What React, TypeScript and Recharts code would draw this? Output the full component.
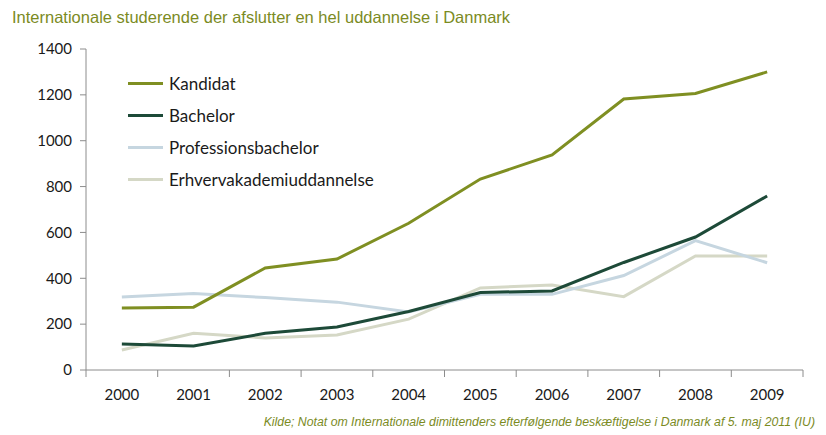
import React from "react";
import { LineChart, Line, XAxis, YAxis } from "recharts";

const years = ["2000", "2001", "2002", "2003", "2004", "2005", "2006", "2007", "2008", "2009"];
const kandidat = [270, 274, 445, 484, 640, 833, 938, 1182, 1206, 1300];
const bachelor = [113, 105, 160, 188, 255, 338, 345, 469, 580, 759];
const professionsbachelor = [318, 334, 316, 296, 253, 330, 330, 412, 564, 468];
const erhvervsakademi = [87, 160, 140, 153, 222, 358, 371, 320, 497, 497];
const yTicks = [0, 200, 400, 600, 800, 1000, 1200, 1400];
const boundaryTicks = [-0.5, 0.5, 1.5, 2.5, 3.5, 4.5, 5.5, 6.5, 7.5, 8.5, 9.5];
const labelTicks = [0, 1, 2, 3, 4, 5, 6, 7, 8, 9];

const seriesNames = ["Kandidat", "Bachelor", "Professionsbachelor", "Erhvervakademiuddannelse"];
const seriesColors = ["#7f8f22", "#1d4a38", "#c6d6e0", "#d5d8c6"];

const data = years.map((y, i) => ({
  x: i,
  year: y,
  k: kandidat[i],
  b: bachelor[i],
  p: professionsbachelor[i],
  e: erhvervsakademi[i],
}));

const FONT = "Lato, 'Open Sans', sans-serif";

export default function App() {
  return (
    <div style={{ position: "absolute", left: 0, top: 0, width: 826, height: 435, background: "#fff" }}>
      <div
        style={{
          position: "absolute",
          left: 12,
          top: 8,
          fontFamily: "'Liberation Sans', Arial, sans-serif",
          fontSize: 16.5,
          color: "#7b8b1f",
          whiteSpace: "nowrap",
        }}
      >
        Internationale studerende der afslutter en hel uddannelse i Danmark
      </div>
      <LineChart width={826} height={435} data={data} margin={{ top: 49, right: 23, left: 0, bottom: 35 }}>
        <YAxis
          width={86}
          domain={[0, 1400]}
          ticks={yTicks}
          interval={0}
          stroke="#8c8c8c"
          tickSize={6}
          tickMargin={8}
          tick={{ fill: "#1a1a1a", fontSize: 15, fontFamily: FONT }}
        />
        <XAxis
          xAxisId="a"
          dataKey="x"
          type="number"
          domain={[-0.5, 9.5]}
          ticks={boundaryTicks}
          interval={0}
          height={1}
          stroke="#8c8c8c"
          tickSize={7}
          tickLine={{ stroke: "#8c8c8c" }}
          tickFormatter={() => " "}
          tick={{ fontSize: 1 }}
        />
        <XAxis
          xAxisId="b"
          dataKey="x"
          type="number"
          domain={[-0.5, 9.5]}
          ticks={labelTicks}
          interval={0}
          height={29}
          axisLine={false}
          tickLine={false}
          tickMargin={12}
          tickFormatter={(v: number) => years[v]}
          tick={{ fill: "#1a1a1a", fontSize: 15, fontFamily: FONT }}
        />
        <Line xAxisId="b" dataKey="e" name={seriesNames[3]} stroke={seriesColors[3]} strokeWidth={3} dot={false} isAnimationActive={false} />
        <Line xAxisId="b" dataKey="p" name={seriesNames[2]} stroke={seriesColors[2]} strokeWidth={3} dot={false} isAnimationActive={false} />
        <Line xAxisId="b" dataKey="b" name={seriesNames[1]} stroke={seriesColors[1]} strokeWidth={3} dot={false} isAnimationActive={false} />
        <Line xAxisId="b" dataKey="k" name={seriesNames[0]} stroke={seriesColors[0]} strokeWidth={3} dot={false} isAnimationActive={false} />
      </LineChart>
      <div style={{ position: "absolute", left: 128, top: 67, fontFamily: FONT }}>
        {seriesNames.map((n, i) => (
          <div key={n} style={{ display: "flex", alignItems: "center", height: 32 }}>
            <div style={{ width: 35, height: 3, background: seriesColors[i], marginRight: 6 }} />
            <span style={{ fontSize: 17, color: "#1a1a1a" }}>{n}</span>
          </div>
        ))}
      </div>
      <div
        style={{
          position: "absolute",
          right: 11,
          top: 415,
          fontFamily: "'Liberation Sans', Arial, sans-serif",
          fontStyle: "italic",
          fontSize: 12.3,
          color: "#7b8b1f",
          whiteSpace: "nowrap",
        }}
      >
        Kilde; Notat om Internationale dimittenders efterfølgende beskæftigelse i Danmark af 5. maj 2011 (IU)
      </div>
    </div>
  );
}
